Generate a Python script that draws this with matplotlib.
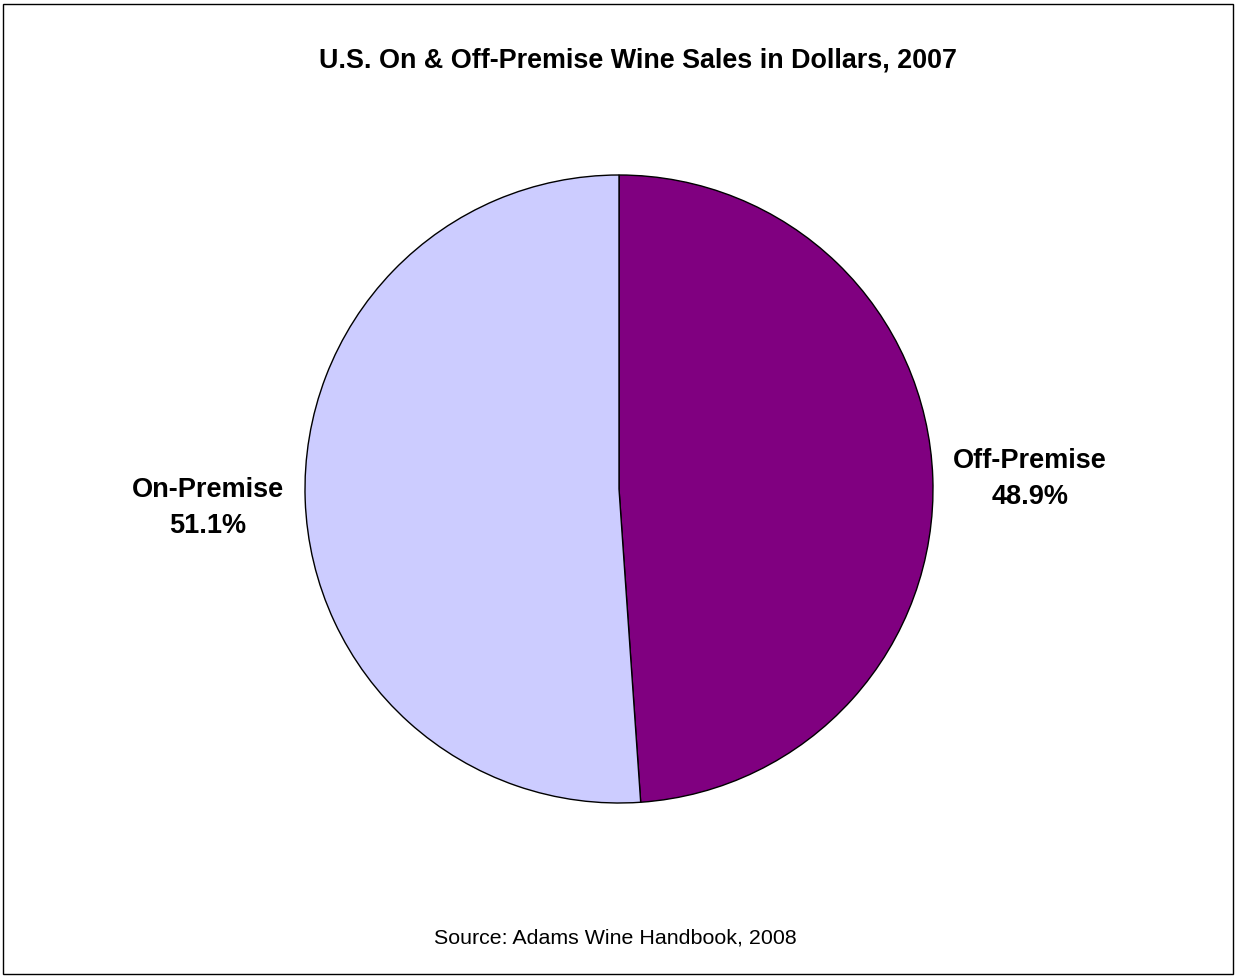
import matplotlib.pyplot as plt
from matplotlib.patches import Rectangle

# wine sales split by channel (percent of dollar sales)
channels = ["Off-Premise", "On-Premise"]
shares = [48.9, 51.1]
colors = ["#800080", "#CCCCFF"]

plt.rcParams['font.family'] = ['Liberation Sans', 'DejaVu Sans']

fig = plt.figure(figsize=(12.36, 9.77), dpi=100)
fig.patch.set_facecolor("white")

# thin frame around the whole chart area
fig.patches.append(Rectangle((3 / 1236, 3 / 977), 1230 / 1236, 970 / 977,
                             transform=fig.transFigure, fill=False,
                             edgecolor="black", linewidth=1))

cx, cy, r = 619, 489, 314
ax = fig.add_axes([(cx - r) / 1236, (977 - cy - r) / 977, 2 * r / 1236, 2 * r / 977])

labels = [f"{c}\n{s:.1f}%" for c, s in zip(channels, shares)]
wedges, texts = ax.pie(shares, colors=colors, startangle=90, counterclock=False,
                       labels=labels, labeldistance=1.31,
                       wedgeprops=dict(edgecolor="black", linewidth=1),
                       textprops=dict(fontsize=19.5, fontweight="bold",
                                      ha="center", va="center",
                                      linespacing=1.5))
# nudge the labels down a touch
for t in texts:
    x, y = t.get_position()
    t.set_position((x, y - 0.014))

ax.set_xlim(-1, 1)
ax.set_ylim(-1, 1)
ax.set_aspect("equal")

fig.text(638 / 1236, 1 - 60 / 977, "U.S. On & Off-Premise Wine Sales in Dollars, 2007",
         ha="center", va="center", fontsize=19.4, fontweight="bold")
fig.text(615 / 1236, 1 - 938 / 977, "Source: Adams Wine Handbook, 2008",
         ha="center", va="center", fontsize=15.4)

fig.savefig("out.png", dpi=100)
